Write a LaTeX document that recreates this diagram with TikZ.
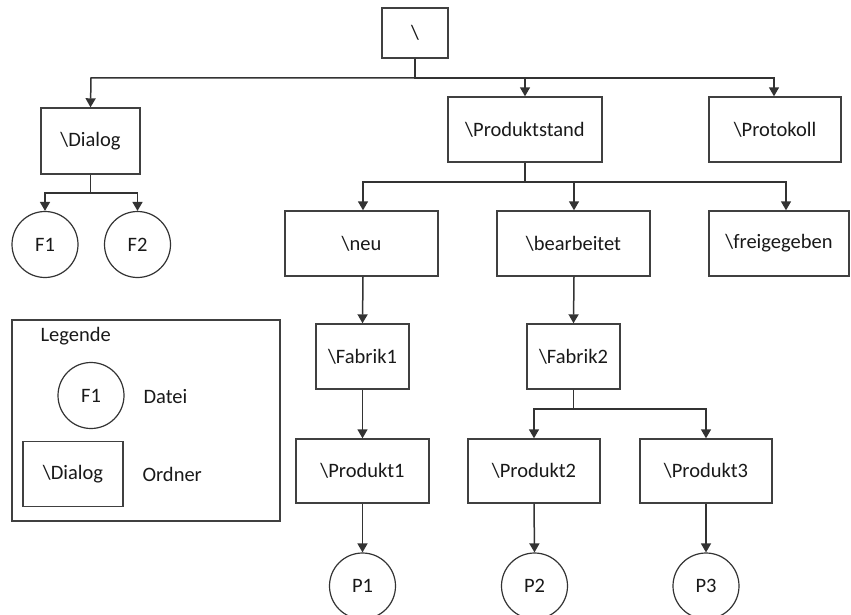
\documentclass[tikz,border=0pt]{standalone}
\usepackage{fontspec}
\setmainfont{Carlito}
\usetikzlibrary{arrows.meta}
\begin{document}
\begin{tikzpicture}[x=1pt,y=-1pt,
  every node/.style={font=\fontsize{20.5}{24}\selectfont, text=black!90},
  folder/.style={draw=black!75, line width=1.4pt, rectangle, inner sep=0pt},
  file/.style={draw=black!80, line width=1.2pt, circle, minimum size=66pt, inner sep=0pt},
  arr/.style={draw=black!80, line width=1.5pt, -{Triangle[width=10pt,length=9pt]}},
  link/.style={draw=black!80, line width=1.5pt}]
\useasboundingbox (0,0) rectangle (851,615);

% folders
\node[folder, minimum width=66pt, minimum height=50pt] (root) at (415,33) {\textbackslash};
\node[folder, minimum width=99pt, minimum height=66pt] (dialog) at (90.5,141) {\textbackslash Dialog};
\node[folder, minimum width=154pt, minimum height=65pt] (pstand) at (525,129.5) {\textbackslash Produktstand};
\node[folder, minimum width=132pt, minimum height=65pt] (proto) at (775,129.5) {\textbackslash Protokoll};
\node[folder, minimum width=153pt, minimum height=65pt] (neu) at (361.5,243.5) {\textbackslash neu};
\node[folder, minimum width=153pt, minimum height=65pt] (bearb) at (573.5,243.5) {\textbackslash bearbeitet};
\node[folder, minimum width=140pt, minimum height=65pt] (frei) at (779,243.5) {\textbackslash freigegeben};
\node[folder, minimum width=93pt, minimum height=65pt] (fab1) at (362.5,356.5) {\textbackslash Fabrik1};
\node[folder, minimum width=93pt, minimum height=65pt] (fab2) at (573.5,356.5) {\textbackslash Fabrik2};
\node[folder, minimum width=133pt, minimum height=64pt] (prod1) at (362.5,471) {\textbackslash Produkt1};
\node[folder, minimum width=132pt, minimum height=64pt] (prod2) at (534,471) {\textbackslash Produkt2};
\node[folder, minimum width=132pt, minimum height=64pt] (prod3) at (706,471) {\textbackslash Produkt3};

% files
\node[file] (f1) at (45,244.5) {F1};
\node[file] (f2) at (137.5,244.5) {F2};
\node[file] (p1) at (362.5,586) {P1};
\node[file] (p2) at (534.5,586) {P2};
\node[file] (p3) at (706,586) {P3};

% connectors
\draw[arr] (root.south) |- (91,78) -- (dialog.north);
\draw[arr] (root.south) |- (525,78) -- (pstand.north);
\draw[arr] (root.south) |- (774,78) -- ([xshift=-1pt]proto.north);

\draw[arr] (dialog.south) |- (45,193) -- (f1.north);
\draw[arr] (dialog.south) |- (137.5,193) -- (f2.north);

\draw[arr] (pstand.south) |- (363,182) -- ([xshift=1.5pt]neu.north);
\draw[arr] (pstand.south) |- (574,182) -- ([xshift=0.5pt]bearb.north);
\draw[arr] (pstand.south) |- (786,182) -- ([xshift=7pt]frei.north);

\draw[arr] ([xshift=1.5pt]neu.south) -- (fab1.north);
\draw[arr] (fab1.south) -- (prod1.north);
\draw[arr] (prod1.south) -- (p1.north);

\draw[arr] ([xshift=0.5pt]bearb.south) -- (fab2.north);
\draw[arr] (fab2.south) |- (534,409) -- (prod2.north);
\draw[arr] (fab2.south) |- (706,409) -- (prod3.north);
\draw[arr] (prod2.south) -- (p2.north);
\draw[arr] (prod3.south) -- (p3.north);

% legend
\node[folder, minimum width=268pt, minimum height=201pt] (legend) at (146,420.5) {};
\node[anchor=west] (legtitle) at (37,336) {Legende};
\node[file] (legfile) at (91,395.5) {F1};
\node[anchor=west] (legfiletext) at (140,397) {Datei};
\node[folder, minimum width=100pt, minimum height=65pt] (legfolder) at (73,474) {\textbackslash Dialog};
\node[anchor=west] (legfoldertext) at (139,474) {Ordner};
\end{tikzpicture}
\end{document}
